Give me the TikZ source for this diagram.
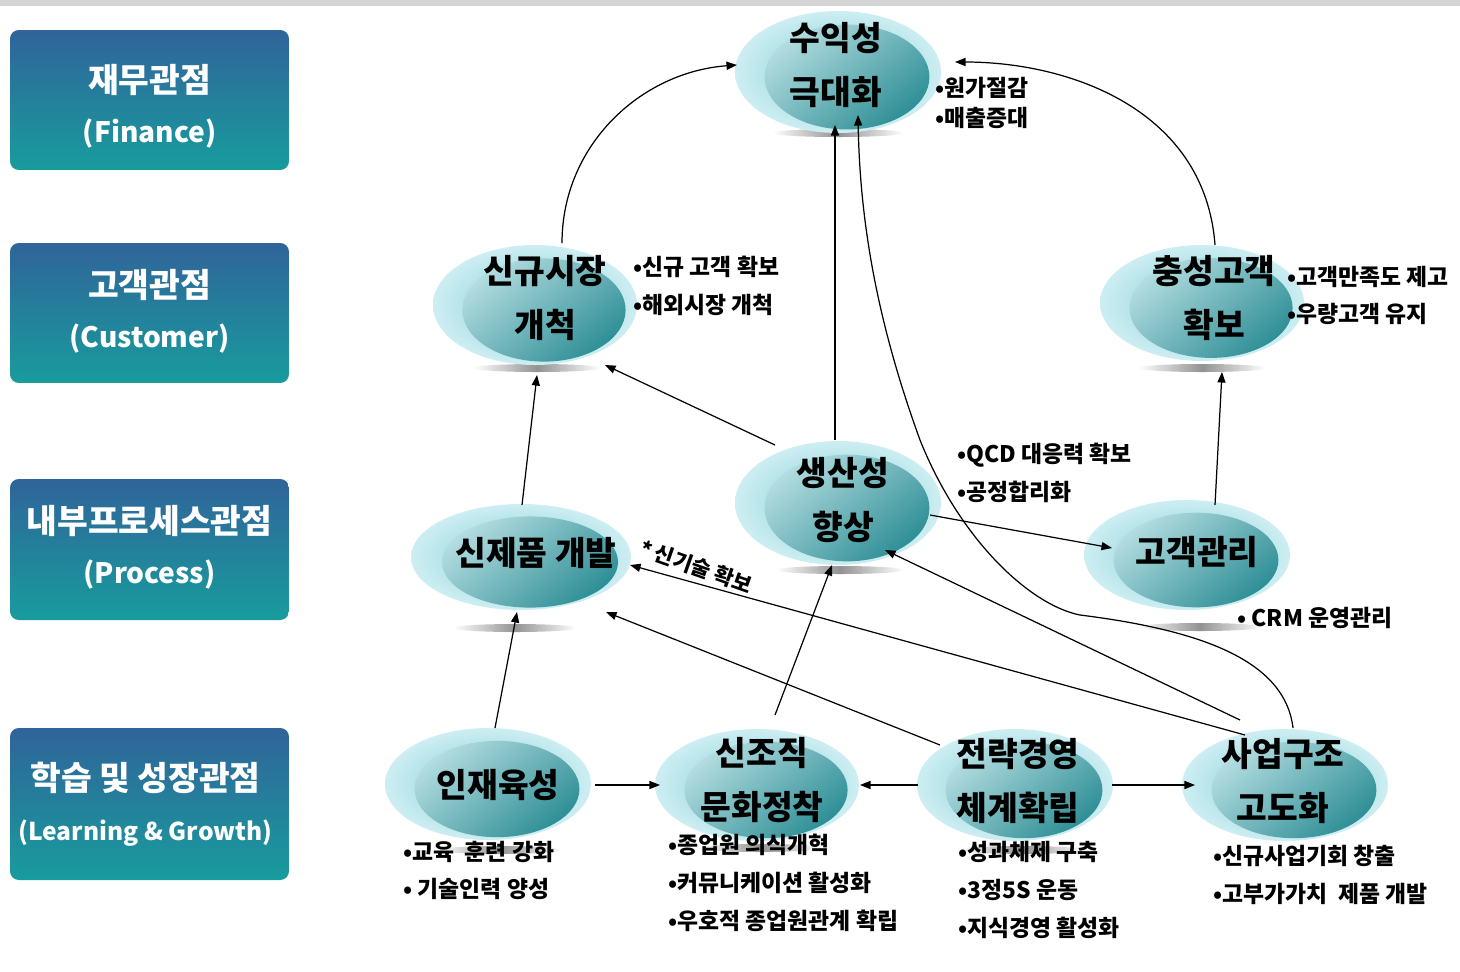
\documentclass[tikz,border=0pt]{standalone}
\usepackage{fontspec}
\setmainfont{Noto Sans CJK KR}
\usetikzlibrary{shapes.geometric,arrows.meta,calc}
\definecolor{boxtop}{HTML}{30649A}
\definecolor{boxbot}{HTML}{189C9D}
\definecolor{halo}{HTML}{7FCCD7}
\definecolor{haloout}{HTML}{CDEEF2}
\definecolor{coreL}{HTML}{B2DCE0}
\definecolor{coreD}{HTML}{2F8F96}
\tikzset{
  bub/.style={ellipse, inner sep=0pt, outer sep=0pt},
  ttl/.style={font=\fontsize{19}{30.5}\selectfont\bfseries, align=center, text=black, inner sep=0pt},
  bul/.style={font=\fontsize{13}{21.5}\selectfont\bfseries, align=left, anchor=west, inner sep=0pt, text=black},
  lbox/.style={rounded corners=5pt, top color=boxtop, bottom color=boxbot,
     minimum width=5.58cm, inner sep=0pt},
  ltxt/.style={text=white, align=center, inner sep=0pt, font=\fontsize{19}{28.5}\selectfont\bfseries},
  arr/.style={-{Triangle[length=6pt,width=4.6pt]}, line width=0.7pt, black},
  lbl/.style={font=\fontsize{12}{13}\selectfont\bfseries, inner sep=1pt}
}
\newcommand{\bubble}[5]{%
  \shade[inner color=halo, outer color=haloout] (#2,#3) ellipse ({#4} and {#5});
  \shade[top color=coreL, bottom color=coreD, shading angle=40] (#2+9,#3+5) ellipse ({0.8*#4} and {0.86*#5});
  \node[bub, minimum width={2*#4*0.02cm}, minimum height={2*#5*0.02cm}] (#1) at (#2,#3) {};
}
\newcommand{\sbar}[3]{%
  \shade[left color=white, right color=white, middle color=gray!85] (#1,#2) ellipse ({#3} and 4);
}
\begin{document}
\begin{tikzpicture}[x=0.02cm,y=-0.02cm]
\useasboundingbox (0,0) rectangle (1460,971);
\fill[white] (0,0) rectangle (1460,971);
\fill[black!17] (0,0) rectangle (1460,6);

% left perspective boxes
\node[lbox, minimum height=2.8cm] (fin) at (149.5,100) {};
\node[lbox, minimum height=2.8cm] (cus) at (149.5,313) {};
\node[lbox, minimum height=2.82cm] (pro) at (149.5,549.5) {};
\node[lbox, minimum height=3.04cm] (lea) at (149.5,804) {};
\node[ltxt] (fint) at ($(fin)+(0,6)$) {재무관점\\{\fontsize{16}{28}\selectfont (Finance)}};
\node[ltxt] (cust) at ($(cus)+(0,-2)$) {고객관점\\{\fontsize{16}{28}\selectfont (Customer)}};
\node[ltxt] (prot) at ($(pro)+(0,-2)$) {내부프로세스관점\\{\fontsize{16}{28}\selectfont (Process)}};
\node[ltxt] (leat) at ($(lea)+(-4,0)$) {학습 및 성장관점\\{\fontsize{14}{28}\selectfont (Learning \& Growth)}};

% shadow bars
\sbar{838}{133}{66}
\sbar{537}{368}{64}
\sbar{1202}{368}{64}
\sbar{840}{570}{64}
\sbar{515}{628}{62}
\sbar{1200}{627}{62}
\sbar{500}{850}{62}
\sbar{760}{848}{62}
\sbar{1022}{850}{62}

% bubbles
\bubble{A}{838}{72}{103}{61}
\bubble{B}{535}{305}{102}{60}
\bubble{C}{1202}{303}{102}{58}
\bubble{D}{838}{503}{103}{62}
\bubble{E}{521}{557}{110}{53}
\bubble{F}{1187}{555}{103}{55}
\bubble{G}{488}{784}{103}{56}
\bubble{H}{757}{785}{102}{56}
\bubble{I}{1015}{785}{98}{56}
\bubble{J}{1285}{785}{103}{56}

% connectors
\draw[arr] ($(B)+(27,-62)$) .. controls ($(B)+(27,-160)$) and ($(A)+(-197,0)$) .. ($(A)+(-101,-7)$);
\draw[arr] ($(D)+(-3,-63)$) -- ($(A)+(-3,53)$);
\draw[arr] ($(J)+(8,-57)$) .. controls (1285,660) and (1200,630) .. (1080,615)
   .. controls (1030,605) and (960,540) .. (920,440)
   .. controls (880,330) and (860,230) .. ($(A)+(20,43)$);
\draw[arr] ($(C)+(13,-58)$) .. controls (1205,110) and (1070,62) .. ($(A)+(117,-10)$);
\draw[arr] ($(F)+(28,-50)$) -- ($(C)+(20,69)$);
\draw[arr] ($(D)+(-63,-58)$) -- ($(B)+(70,60)$);
\draw[arr] ($(E)+(1,-52)$) -- ($(B)+(2,70)$);
\draw[arr] ($(D)+(92,12)$) -- ($(F)+(-75,-7)$);
\draw[arr] ($(G)+(7,-56)$) -- ($(E)+(-4,55)$);
\draw[arr] ($(H)+(18,-70)$) -- ($(D)+(-6,62)$);
\draw[arr] ($(I)+(-75,-40)$) -- ($(E)+(85,55)$);
\draw[arr] ($(J)+(-40,-50)$) -- node[lbl, pos=0.9, above=2pt, sloped, rotate=-4] (tech) {*\,신기술 확보} ($(E)+(109,8)$);
\draw[arr] ($(J)+(-45,-65)$) -- ($(D)+(47,47)$);
\draw[arr] ($(G)+(107,1)$) -- ($(H)+(-97,0)$);
\draw[arr] ($(I)+(-97,0)$) -- ($(H)+(103,0)$);
\draw[arr] ($(I)+(97,0)$) -- ($(J)+(-90,0)$);

% titles
\node[ttl] (At) at (836,65) {수익성\\극대화};
\node[ttl] (Bt) at (545,298) {신규시장\\개척};
\node[ttl] (Ct) at (1214,298) {충성고객\\확보};
\node[ttl] (Dt) at (843,500) {생산성\\향상};
\node[ttl] (Et) at (536,553) {신제품 개발};
\node[ttl] (Ft) at (1197,552) {고객관리};
\node[ttl] (Gt) at (498,785) {인재육성};
\node[ttl] (Ht) at (762,780) {신조직\\문화정착};
\node[ttl] (It) at (1018,781) {전략경영\\체계확립};
\node[ttl] (Jt) at (1283,781) {사업구조\\고도화};

% bullet lists
\node[bul, font=\fontsize{13}{17}\selectfont\bfseries] (Ab) at (935,103) {•원가절감\\•매출증대};
\node[bul] (Bb) at (633,286) {•신규 고객 확보\\•해외시장 개척};
\node[bul] (Cb) at (1287,295.5) {•고객만족도 제고\\•우량고객 유지};
\node[bul] (Db) at (957,472.5) {•QCD 대응력 확보\\•공정합리화};
\node[bul] (Fb) at (1237,618) {• CRM 운영관리};
\node[bul] (Gb) at (403,870.5) {•교육\ \ 훈련 강화\\• 기술인력 양성};
\node[bul] (Hb) at (668,883) {•종업원 의식개혁\\•커뮤니케이션 활성화\\•우호적 종업원관계 확립};
\node[bul] (Ib) at (958,890) {•성과체제 구축\\•3정5S 운동\\•지식경영 활성화};
\node[bul] (Jb) at (1213,875) {•신규사업기회 창출\\•고부가가치\ \ 제품 개발};
\end{tikzpicture}
\end{document}
